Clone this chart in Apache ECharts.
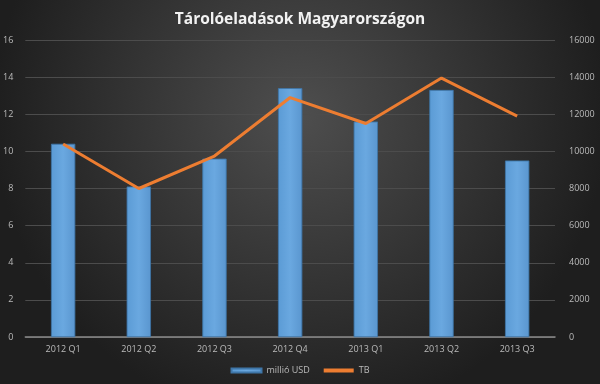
<!DOCTYPE html>
<html><head><meta charset="utf-8">
<script src="https://cdn.jsdelivr.net/npm/echarts@6/dist/echarts.min.js"></script>
<style>html,body{margin:0;padding:0;background:#2a2a2a}#c{width:600px;height:384px}</style>
</head><body><div id="c"></div>
<script>
const categories = ['2012 Q1','2012 Q2','2012 Q3','2012 Q4','2013 Q1','2013 Q2','2013 Q3'];
const usdValues = [10.4, 8.1, 9.6, 13.4, 11.6, 13.3, 9.5];
const tbValues = [10400, 8000, 9750, 12900, 11500, 13950, 11900];
const leftTicks = {min:0, max:16, interval:2};
const rightTicks = {min:0, max:16000, interval:2000};

const chart = echarts.init(document.getElementById('c'));
chart.setOption({
  backgroundColor: {type:'radial', x:0.5, y:0.3, r:0.8, colorStops:[{offset:0,color:'#4e4e4e'},{offset:1,color:'#1e1e1e'}]},
  title: {text:'Tárolóeladások Magyarországon', left:'center', top:7,
    textStyle:{color:'#f2f2f2', fontSize:15.5, fontWeight:'bold', fontFamily:'Open Sans'}},
  legend: {bottom:4, itemWidth:30, itemHeight:4, itemGap:14,
    textStyle:{color:'#bbb', fontSize:9, fontFamily:'Open Sans'},
    data:[{name:'millió USD', icon:'rect'},{name:'TB', icon:'rect'}]},
  grid: {left:24, right:45, top:40, bottom:47},
  xAxis: {type:'category', data:categories,
    axisLine:{lineStyle:{color:'#8a8a8a', width:1.5}}, axisTick:{show:false},
    axisLabel:{color:'#bbb', fontSize:9, fontFamily:'Open Sans', margin:8}},
  yAxis: [
    {type:'value', ...leftTicks, position:'left',
      axisLine:{show:false}, axisTick:{show:false},
      axisLabel:{color:'#bbb', fontSize:9, fontFamily:'Open Sans', margin:12},
      splitLine:{lineStyle:{color:'#4c4c4c', width:1}}},
    {type:'value', ...rightTicks, position:'right',
      axisLine:{show:false}, axisTick:{show:false},
      axisLabel:{color:'#bbb', fontSize:9, fontFamily:'Open Sans', margin:14, formatter:v=>String(v)},
      splitLine:{show:false}}
  ],
  series: [
    {name:'millió USD', type:'bar', yAxisIndex:0, data:usdValues, barWidth:24,
      itemStyle:{color:{type:'linear',x:0,y:0,x2:1,y2:0,colorStops:[{offset:0,color:'#5b9bd5'},{offset:0.5,color:'#6aa8e0'},{offset:1,color:'#5a96cf'}]}, borderColor:'#3f76a8', borderWidth:0.5}},
    {name:'TB', type:'line', yAxisIndex:1, data:tbValues, symbol:'none',
      lineStyle:{color:'#ed7d31', width:3}, itemStyle:{color:'#ed7d31'}}
  ]
});
</script></body></html>
